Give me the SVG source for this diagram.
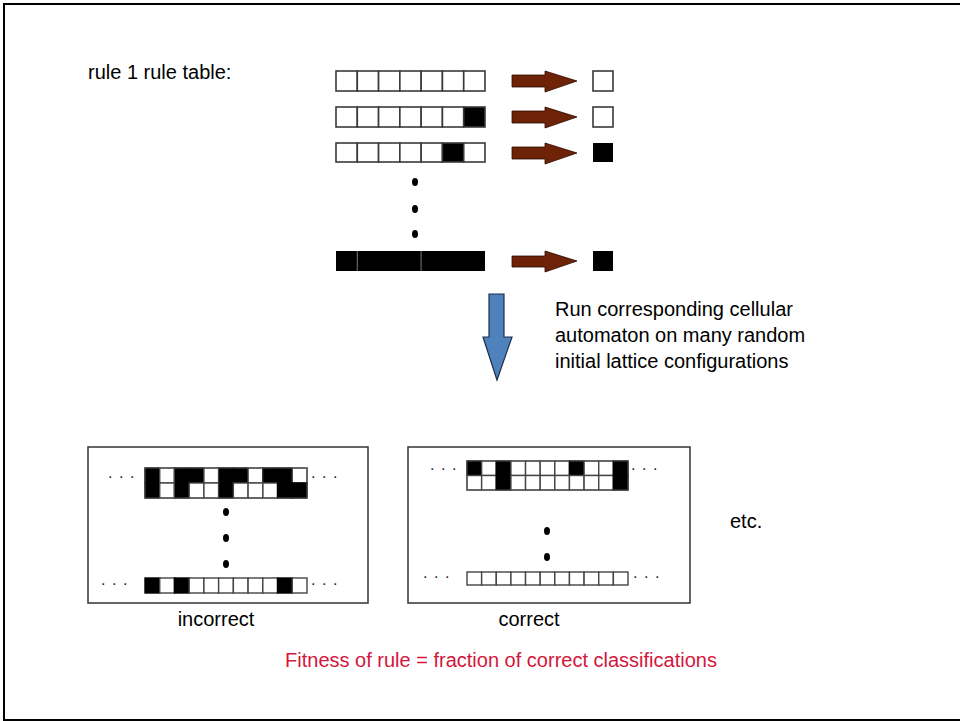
<svg xmlns="http://www.w3.org/2000/svg" width="960" height="721" viewBox="0 0 960 721">
<style>
text{font-family:"Liberation Sans",Arial,sans-serif;font-size:20px;fill:#000}
.w{fill:#fff;stroke:#3a3a3a;stroke-width:1.6}
.b{fill:#000;stroke:#3a3a3a;stroke-width:1.6}
.g{fill:#fff;stroke:#444;stroke-width:1.4}
.k{fill:#000;stroke:#000;stroke-width:1.4}
.dots{font-size:16px;letter-spacing:6.6px;fill:#1a2740}
.brown{fill:#6e2208;stroke:#2a0a00;stroke-width:0.8}
.box{fill:#fff;stroke:#333;stroke-width:1.5}
</style>
<rect x="0" y="0" width="960" height="721" fill="#fff"/>
<rect id="frame" x="4" y="4" width="1000" height="716" fill="none" stroke="#000" stroke-width="2"/>

<text x="88" y="79">rule 1 rule table:</text>

<g id="rule-row-1">
<rect class="w" x="336" y="71" width="21.29" height="20"/>
<rect class="w" x="357.29" y="71" width="21.29" height="20"/>
<rect class="w" x="378.57" y="71" width="21.29" height="20"/>
<rect class="w" x="399.86" y="71" width="21.29" height="20"/>
<rect class="w" x="421.14" y="71" width="21.29" height="20"/>
<rect class="w" x="442.43" y="71" width="21.29" height="20"/>
<rect class="w" x="463.71" y="71" width="21.29" height="20"/>
<rect class="w" x="593" y="71" width="20" height="20"/>
</g>
<g id="rule-row-2">
<rect class="w" x="336" y="107" width="21.29" height="20"/>
<rect class="w" x="357.29" y="107" width="21.29" height="20"/>
<rect class="w" x="378.57" y="107" width="21.29" height="20"/>
<rect class="w" x="399.86" y="107" width="21.29" height="20"/>
<rect class="w" x="421.14" y="107" width="21.29" height="20"/>
<rect class="w" x="442.43" y="107" width="21.29" height="20"/>
<rect class="b" x="463.71" y="107" width="21.29" height="20"/>
<rect class="w" x="593" y="107" width="20" height="20"/>
</g>
<g id="rule-row-3">
<rect class="w" x="336" y="143" width="21.29" height="19"/>
<rect class="w" x="357.29" y="143" width="21.29" height="19"/>
<rect class="w" x="378.57" y="143" width="21.29" height="19"/>
<rect class="w" x="399.86" y="143" width="21.29" height="19"/>
<rect class="w" x="421.14" y="143" width="21.29" height="19"/>
<rect class="b" x="442.43" y="143" width="21.29" height="19"/>
<rect class="w" x="463.71" y="143" width="21.29" height="19"/>
<rect x="593" y="143" width="20" height="19" fill="#000"/>
</g>
<g id="rule-dots" fill="#000">
<ellipse cx="415" cy="182" rx="3" ry="4"/>
<ellipse cx="415" cy="209" rx="3" ry="4"/>
<ellipse cx="415" cy="234" rx="3" ry="4"/>
</g>
<g id="rule-row-last">
<rect x="336" y="251" width="149" height="20" fill="#000"/>
<line x1="357.3" y1="251" x2="357.3" y2="271" stroke="#777" stroke-width="1"/>
<line x1="421.1" y1="251" x2="421.1" y2="271" stroke="#777" stroke-width="1"/>
<rect x="593" y="251" width="20" height="20" fill="#000"/>
</g>

<g id="connectors">
<polygon class="brown" points="512,75 545,75 545,71 577,81 545,92 545,87 512,87"/>
<polygon class="brown" points="512,111 545,111 545,107 577,117 545,128 545,123 512,123"/>
<polygon class="brown" points="512,147 545,147 545,143 577,153 545,164 545,159 512,159"/>
<polygon class="brown" points="512,256 545,256 545,251 577,261 545,272 545,267 512,267"/>
<polygon points="489,294 504,294 504,337 512,337 497,380 483,337 489,337" fill="#4f81bd" stroke="#1f2f4a" stroke-width="1.2"/>
</g>

<g id="caption">
<text x="555" y="316">Run corresponding cellular</text>
<text x="555" y="342">automaton on many random</text>
<text x="555" y="368">initial lattice configurations</text>
</g>

<g id="incorrect-panel">
<rect class="box" x="88" y="447" width="280" height="156"/>
<text class="dots" x="108" y="478">...</text>
<text class="dots" x="311" y="478">...</text>
<rect class="k" x="145" y="468" width="14.73" height="15"/>
<rect class="g" x="159.73" y="468" width="14.73" height="15"/>
<rect class="k" x="174.45" y="468" width="14.73" height="15"/>
<rect class="k" x="189.18" y="468" width="14.73" height="15"/>
<rect class="g" x="203.91" y="468" width="14.73" height="15"/>
<rect class="k" x="218.64" y="468" width="14.73" height="15"/>
<rect class="k" x="233.36" y="468" width="14.73" height="15"/>
<rect class="g" x="248.09" y="468" width="14.73" height="15"/>
<rect class="k" x="262.82" y="468" width="14.73" height="15"/>
<rect class="k" x="277.55" y="468" width="14.73" height="15"/>
<rect class="g" x="292.27" y="468" width="14.73" height="15"/>
<rect class="k" x="145" y="483" width="14.73" height="15"/>
<rect class="g" x="159.73" y="483" width="14.73" height="15"/>
<rect class="k" x="174.45" y="483" width="14.73" height="15"/>
<rect class="g" x="189.18" y="483" width="14.73" height="15"/>
<rect class="g" x="203.91" y="483" width="14.73" height="15"/>
<rect class="k" x="218.64" y="483" width="14.73" height="15"/>
<rect class="g" x="233.36" y="483" width="14.73" height="15"/>
<rect class="g" x="248.09" y="483" width="14.73" height="15"/>
<rect class="g" x="262.82" y="483" width="14.73" height="15"/>
<rect class="k" x="277.55" y="483" width="14.73" height="15"/>
<rect class="k" x="292.27" y="483" width="14.73" height="15"/>
<rect x="145" y="468" width="162" height="30" fill="none" stroke="#555" stroke-width="1"/>
<path d="M174.45,468 V498 M218.64,468 V498 M262.82,468 V498" stroke="#555" stroke-width="0.8"/>
<ellipse cx="226" cy="512" rx="3" ry="4"/>
<ellipse cx="226" cy="538" rx="3" ry="4"/>
<ellipse cx="226" cy="564" rx="3" ry="4"/>
<text class="dots" x="101" y="585">...</text>
<text class="dots" x="311" y="585">...</text>
<rect class="k" x="145" y="578" width="14.73" height="15"/>
<rect class="g" x="159.73" y="578" width="14.73" height="15"/>
<rect class="k" x="174.45" y="578" width="14.73" height="15"/>
<rect class="g" x="189.18" y="578" width="14.73" height="15"/>
<rect class="g" x="203.91" y="578" width="14.73" height="15"/>
<rect class="g" x="218.64" y="578" width="14.73" height="15"/>
<rect class="g" x="233.36" y="578" width="14.73" height="15"/>
<rect class="g" x="248.09" y="578" width="14.73" height="15"/>
<rect class="g" x="262.82" y="578" width="14.73" height="15"/>
<rect class="k" x="277.55" y="578" width="14.73" height="15"/>
<rect class="g" x="292.27" y="578" width="14.73" height="15"/>
<text x="216" y="626" text-anchor="middle">incorrect</text>
</g>

<g id="correct-panel">
<rect class="box" x="408" y="447" width="282" height="156"/>
<text class="dots" x="430" y="470">...</text>
<text class="dots" x="631" y="470">...</text>
<rect class="k" x="467" y="461" width="14.64" height="14.5"/>
<rect class="g" x="481.64" y="461" width="14.64" height="14.5"/>
<rect class="k" x="496.27" y="461" width="14.64" height="14.5"/>
<rect class="g" x="510.91" y="461" width="14.64" height="14.5"/>
<rect class="g" x="525.55" y="461" width="14.64" height="14.5"/>
<rect class="g" x="540.18" y="461" width="14.64" height="14.5"/>
<rect class="g" x="554.82" y="461" width="14.64" height="14.5"/>
<rect class="k" x="569.45" y="461" width="14.64" height="14.5"/>
<rect class="g" x="584.09" y="461" width="14.64" height="14.5"/>
<rect class="g" x="598.73" y="461" width="14.64" height="14.5"/>
<rect class="k" x="613.36" y="461" width="14.64" height="14.5"/>
<rect class="g" x="467" y="475.5" width="14.64" height="14.5"/>
<rect class="g" x="481.64" y="475.5" width="14.64" height="14.5"/>
<rect class="k" x="496.27" y="475.5" width="14.64" height="14.5"/>
<rect class="g" x="510.91" y="475.5" width="14.64" height="14.5"/>
<rect class="g" x="525.55" y="475.5" width="14.64" height="14.5"/>
<rect class="g" x="540.18" y="475.5" width="14.64" height="14.5"/>
<rect class="g" x="554.82" y="475.5" width="14.64" height="14.5"/>
<rect class="g" x="569.45" y="475.5" width="14.64" height="14.5"/>
<rect class="g" x="584.09" y="475.5" width="14.64" height="14.5"/>
<rect class="g" x="598.73" y="475.5" width="14.64" height="14.5"/>
<rect class="k" x="613.36" y="475.5" width="14.64" height="14.5"/>
<rect x="467" y="461" width="161" height="29" fill="none" stroke="#555" stroke-width="1"/>
<ellipse cx="547" cy="531" rx="3" ry="4"/>
<ellipse cx="547" cy="557" rx="3" ry="4"/>
<text class="dots" x="423" y="578">...</text>
<text class="dots" x="633" y="578">...</text>
<rect class="g" x="467" y="572" width="14.64" height="13"/>
<rect class="g" x="481.64" y="572" width="14.64" height="13"/>
<rect class="g" x="496.27" y="572" width="14.64" height="13"/>
<rect class="g" x="510.91" y="572" width="14.64" height="13"/>
<rect class="g" x="525.55" y="572" width="14.64" height="13"/>
<rect class="g" x="540.18" y="572" width="14.64" height="13"/>
<rect class="g" x="554.82" y="572" width="14.64" height="13"/>
<rect class="g" x="569.45" y="572" width="14.64" height="13"/>
<rect class="g" x="584.09" y="572" width="14.64" height="13"/>
<rect class="g" x="598.73" y="572" width="14.64" height="13"/>
<rect class="g" x="613.36" y="572" width="14.64" height="13"/>
<text x="529" y="626" text-anchor="middle">correct</text>
</g>

<text id="etc" x="730" y="528">etc.</text>
<text id="fitness" x="501" y="667" text-anchor="middle" style="fill:#d4163c">Fitness of rule = fraction of correct classifications</text>
</svg>
